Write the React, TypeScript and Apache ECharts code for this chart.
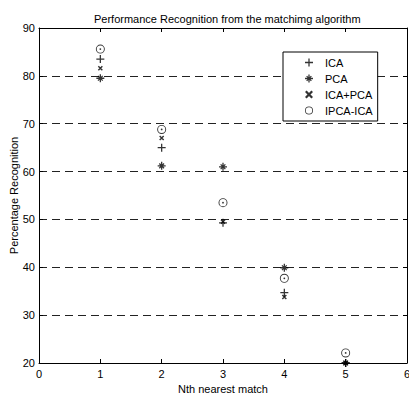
import React, { useEffect, useRef } from "react";
import * as echarts from "echarts";

const matchRanks = [1, 2, 3, 4, 5];
const icaValues = [83.5, 65.0, 49.3, 34.7, 20];
const pcaValues = [79.5, 61.2, 61.0, 39.9, 20];
const icaPcaValues = [81.6, 67.0, 49.5, 33.8, 20];
const ipcaIcaValues = [85.6, 68.8, 53.5, 37.7, 22.1];
const seriesNames = ["ICA", "PCA", "ICA+PCA", "IPCA-ICA"];
const yTicks = [20, 30, 40, 50, 60, 70, 80, 90];
const xTicks = [0, 1, 2, 3, 4, 5, 6];

const FONT = "'Liberation Sans', Arial, Helvetica, sans-serif";

const PLUS = "path://M4.2,0H5.8V10H4.2Z M0,4.2H10V5.8H0Z";
const STAR =
  "path://M4.2,0H5.8V10H4.2Z M0,4.2H10V5.8H0Z M1.5,2.6L2.6,1.5L8.5,7.4L7.4,8.5Z M7.4,1.5L8.5,2.6L2.6,8.5L1.5,7.4Z";
const CROSS = "path://M0,2L2,0L10,8L8,10Z M8,0L10,2L2,10L0,8Z";
const RING_DOT =
  "path://M0,5A5,5 0 1 1 10,5A5,5 0 1 1 0,5Z M1,5A4,4 0 1 0 9,5A4,4 0 1 0 1,5Z M4,5A1,1 0 1 1 6,5A1,1 0 1 1 4,5Z";
const RING =
  "path://M0,5A5,5 0 1 1 10,5A5,5 0 1 1 0,5Z M1,5A4,4 0 1 0 9,5A4,4 0 1 0 1,5Z";

function pairs(vals: number[]) {
  return matchRanks.map((x, i) => [x, vals[i]]);
}

export default function App() {
  const ref = useRef<HTMLDivElement>(null);
  useEffect(() => {
    if (!ref.current) return;
    const chart = echarts.init(ref.current, null, { renderer: "svg" });
    const axisCommon = {
      axisLine: { show: true, onZero: false, lineStyle: { color: "#000", width: 1 } },
      axisTick: { show: true, inside: true, length: 4, lineStyle: { color: "#000" } },
    };
    chart.setOption({
      animation: false,
      backgroundColor: "#fff",
      title: {
        text: "Performance Recognition from the matchimg algorithm",
        left: 89,
        top: 8,
        textStyle: { fontFamily: FONT, fontSize: 11, fontWeight: "normal", color: "#000" },
      },
      grid: { left: 39, right: 2, top: 28, bottom: 35, outerBoundsMode: "none", containLabel: false },
      legend: {
        orient: "vertical",
        left: 283,
        top: 52,
        padding: [5, 5, 5, 22],
        itemWidth: 8,
        itemHeight: 8,
        itemGap: 5,
        backgroundColor: "#fff",
        borderColor: "#000",
        borderWidth: 1,
        borderRadius: 0,
        textStyle: { fontFamily: FONT, fontSize: 11, color: "#000", padding: [0, 0, 0, 7] },
        data: [
          { name: seriesNames[0], icon: PLUS },
          { name: seriesNames[1], icon: STAR },
          { name: seriesNames[2], icon: CROSS },
          { name: seriesNames[3], icon: RING },
        ],
      },
      xAxis: [
        {
          type: "value",
          min: xTicks[0],
          max: xTicks[xTicks.length - 1],
          interval: 1,
          position: "bottom",
          ...axisCommon,
          axisLabel: { fontFamily: FONT, fontSize: 11, color: "#000", margin: 5 },
          splitLine: { show: false },
          name: "Nth nearest match",
          nameLocation: "middle",
          nameGap: 20,
          nameTextStyle: { fontFamily: FONT, fontSize: 11, color: "#000" },
        },
        {
          type: "value",
          min: xTicks[0],
          max: xTicks[xTicks.length - 1],
          interval: 1,
          position: "top",
          ...axisCommon,
          axisLabel: { show: false },
          splitLine: { show: false },
        },
      ],
      yAxis: [
        {
          type: "value",
          min: yTicks[0],
          max: yTicks[yTicks.length - 1],
          interval: 10,
          position: "left",
          ...axisCommon,
          axisLabel: { fontFamily: FONT, fontSize: 11, color: "#000", margin: 4 },
          splitLine: { show: true, lineStyle: { color: "#222", type: [8, 5], width: 1 } },
          name: "Percentage Recognition",
          nameLocation: "middle",
          nameGap: 20,
          nameMoveOverlap: false,
          nameTextStyle: { fontFamily: FONT, fontSize: 11, color: "#000" },
        },
        {
          type: "value",
          min: yTicks[0],
          max: yTicks[yTicks.length - 1],
          interval: 10,
          position: "right",
          ...axisCommon,
          axisLabel: { show: false },
          splitLine: { show: false },
        },
      ],
      series: [
        { name: seriesNames[0], type: "scatter", symbol: PLUS, symbolSize: 8, data: pairs(icaValues), itemStyle: { color: "#000" } },
        { name: seriesNames[1], type: "scatter", symbol: STAR, symbolSize: 8, data: pairs(pcaValues), itemStyle: { color: "#000" } },
        { name: seriesNames[2], type: "scatter", symbol: CROSS, symbolSize: 5, data: pairs(icaPcaValues), itemStyle: { color: "#000" } },
        { name: seriesNames[3], type: "scatter", symbol: RING_DOT, symbolSize: 9, data: pairs(ipcaIcaValues), itemStyle: { color: "#000" } },
      ],
    });
    return () => chart.dispose();
  }, []);
  return (
    <div
      ref={ref}
      style={{ position: "fixed", left: 0, top: 0, width: 409, height: 398, background: "#fff" }}
    />
  );
}
